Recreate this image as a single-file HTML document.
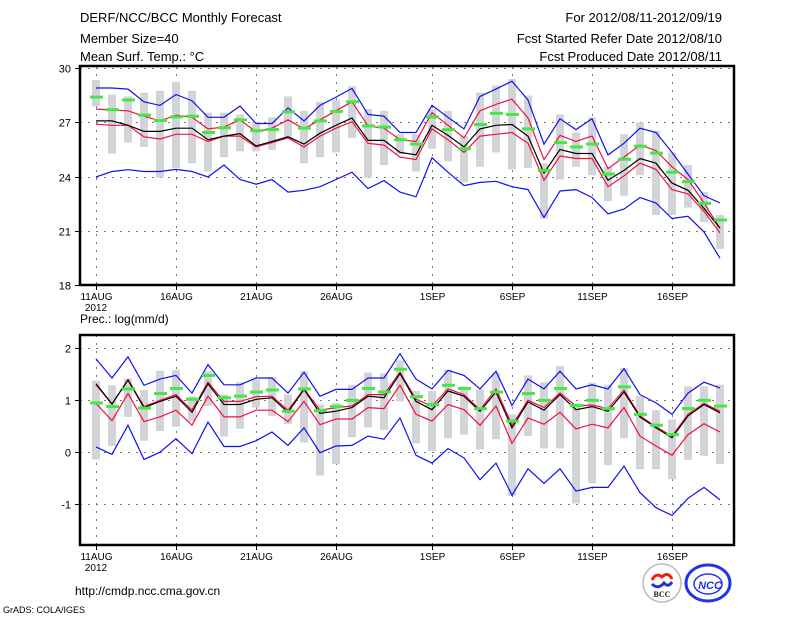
<!DOCTYPE html>
<html><head><meta charset="utf-8">
<style>
body{margin:0;background:#fff;}
svg{display:block;font-family:"Liberation Sans",sans-serif;}
</style></head>
<body>
<svg id="chart" width="800" height="618" viewBox="0 0 800 618">
<rect width="800" height="618" fill="#fff"/>
<g font-size="13" fill="#000">
<text x="80" y="22">DERF/NCC/BCC Monthly Forecast</text>
<text x="80" y="43">Member Size=40</text>
<text x="80" y="61">Mean Surf. Temp.: °C</text>
<text x="722" y="22" text-anchor="end">For 2012/08/11-2012/09/19</text>
<text x="722" y="43" text-anchor="end">Fcst Started Refer Date 2012/08/10</text>
<text x="722" y="61" text-anchor="end">Fcst Produced Date 2012/08/11</text>
<text x="80" y="323" font-size="12">Prec.: log(mm/d)</text>
<text x="75" y="595" font-size="12">http://cmdp.ncc.cma.gov.cn</text>
<text x="3" y="613" font-size="9">GrADS: COLA/IGES</text>
</g>
<g>
<circle cx="662" cy="583" r="19" fill="#fff" stroke="#bbb" stroke-width="1.5"/>
<path d="M652 580 q4 -8 10 -3 q6 -6 10 2" fill="none" stroke="#e21" stroke-width="3"/>
<path d="M652 584 q6 6 12 -1 q4 5 8 -1" fill="none" stroke="#23c" stroke-width="3"/>
<text x="662" y="597" font-size="8" font-weight="bold" text-anchor="middle" fill="#223" font-family="Liberation Serif,serif">BCC</text>
</g>
<g>
<ellipse cx="708" cy="583" rx="22" ry="18" fill="#fff" stroke="#2233ee" stroke-width="3"/>
<ellipse cx="708" cy="584" rx="14" ry="10" fill="none" stroke="#2233ee" stroke-width="1.5"/>
<text x="710" y="589" font-size="11" font-weight="bold" font-style="italic" text-anchor="middle" fill="#2233ee">NCC</text>
</g>
<g id="top"></g>
<g id="bot"></g>
</svg>
<script>
// ---- temperature panel data ----
const tBlueHi=[28.9,28.9,28.84,28.14,27.94,28.54,28.2,27.28,27.28,27.9,26.94,26.94,27.8,27.08,27.94,28.4,28.88,27.44,27.34,26.44,26.44,27.94,27.28,26.64,28.44,28.84,29.28,28.24,25.8,27.2,26.6,27.2,25.2,25.84,26.68,26.44,25.34,24.14,22.94,22.54];
const tRedHi=[27.74,27.68,27.64,27.34,27.08,27.4,27.28,26.64,26.74,27.14,26.48,26.68,27.14,26.64,27.14,27.64,28.14,26.8,26.68,26.04,25.94,27.54,26.84,26.14,27.64,28.0,28.28,27.24,24.94,26.28,25.94,26.24,24.44,25.08,25.74,25.44,24.54,23.84,22.54,21.14];
const tMean=[27.08,27.08,26.84,26.5,26.5,26.68,26.68,26.04,26.24,26.38,25.7,25.94,26.2,25.8,26.4,26.84,27.24,26,26,25.34,25.2,26.84,26.28,25.64,26.64,26.84,26.88,26.24,24.2,25.5,25.28,25.28,23.8,24.34,25.0,24.74,23.64,23.24,22.24,21.14];
const tRedLo=[26.9,26.84,26.84,26.2,26.08,26.34,26.34,25.94,26.24,26.24,25.64,25.88,26.14,25.64,26.24,26.68,27.04,25.84,25.74,25.08,24.94,26.64,26.04,25.34,26.24,26.34,26.44,25.84,23.8,25.14,25.0,25.0,23.44,24.04,24.74,24.4,23.28,23.04,22.08,20.88];
const tBlueLo=[23.98,24.28,24.38,24.28,24.28,24.4,24.28,23.98,24.64,23.84,23.58,23.84,23.14,23.24,23.44,23.84,24.24,23.34,23.78,23.14,22.88,25.04,24.24,23.5,23.68,23.74,23.44,23.28,21.74,23.2,23.28,22.84,21.94,22.2,22.84,22.54,21.68,21.8,20.94,19.48];
const tGreen=[28.4,27.7,28.24,27.4,27.1,27.3,27.34,26.44,26.7,27.14,26.54,26.6,27.58,26.68,27.08,27.6,28.14,26.8,26.74,26.04,25.8,27.3,26.6,25.54,26.88,27.5,27.44,26.64,24.34,25.88,25.64,25.8,24.14,24.96,25.68,25.3,24.24,23.72,22.52,21.6];
const tBarTop=[29.34,28.54,28.44,28.64,28.74,29.24,28.74,27.54,27.54,27.44,27.04,27.28,28.44,27.64,28.14,28.24,29.0,27.74,27.64,26.34,26.34,27.74,27.64,26.24,28.64,29.04,29.4,28.48,24.74,27.44,26.44,27.28,24.54,26.34,27.0,26.54,25.34,24.64,23.14,21.88];
const tBarBot=[27.88,25.28,25.88,25.64,23.94,24.48,24.74,24.28,25.08,25.4,25.4,25.48,26.14,24.74,25.08,25.34,26.14,23.94,24.64,25.24,24.28,25.54,24.84,23.68,24.54,25.34,24.4,24.48,21.68,23.84,24.54,24.08,22.64,22.94,24.08,21.88,21.88,22.28,21.48,20.0];
const tTicks=[18,21,24,27,30];
// ---- precipitation panel data ----
const pBlueHi=[1.79,1.42,1.83,1.28,1.4,1.47,1.13,1.68,1.29,1.29,1.42,1.42,1.13,1.53,1.07,1.2,1.2,1.42,1.42,1.89,1.4,1.21,1.57,1.47,1.21,1.55,0.89,1.4,1.21,1.55,1.21,1.29,1.21,1.6,1.1,0.94,0.72,1.13,1.34,1.23];
const pRedHi=[1.29,0.92,1.39,0.87,0.99,1.1,0.8,1.34,0.97,0.97,1.06,1.07,0.8,1.21,0.8,0.85,0.88,1.1,1.1,1.53,1.01,0.88,1.21,1.1,0.81,1.21,0.51,0.99,0.85,1.13,0.88,0.9,0.83,1.19,0.69,0.48,0.3,0.72,0.93,0.78];
const pMean=[1.31,0.92,1.38,0.85,0.97,1.07,0.76,1.31,0.91,0.91,1.01,1.04,0.76,1.2,0.74,0.78,0.85,1.07,1.04,1.51,0.97,0.81,1.17,1.07,0.78,1.15,0.46,0.96,0.8,1.1,0.81,0.87,0.78,1.15,0.67,0.46,0.27,0.69,0.91,0.75];
const pRedLo=[0.93,0.6,1.12,0.58,0.67,0.8,0.51,1.07,0.67,0.67,0.8,0.8,0.58,0.97,0.52,0.63,0.63,0.85,0.83,1.28,0.72,0.59,0.91,0.81,0.51,0.88,0.16,0.65,0.53,0.76,0.44,0.53,0.46,0.85,0.3,0.11,-0.07,0.33,0.54,0.38];
const pBlueLo=[0.09,-0.05,0.51,-0.15,-0.01,0.25,-0.04,0.57,0.1,0.1,0.21,0.38,0.12,0.46,-0.02,0.11,0.12,0.3,0.24,0.65,-0.07,-0.22,0.06,-0.12,-0.54,-0.22,-0.84,-0.33,-0.61,-0.33,-0.76,-0.69,-0.69,-0.28,-0.79,-1.08,-1.23,-0.9,-0.69,-0.93];
const pGreen=[0.94,0.87,1.21,0.84,1.12,1.22,1.01,1.47,1.04,1.07,1.15,1.19,0.78,1.21,0.79,0.87,0.99,1.22,1.15,1.59,1.06,0.91,1.28,1.22,0.83,1.15,0.59,1.12,0.99,1.22,0.89,0.99,0.83,1.25,0.72,0.51,0.33,0.83,0.99,0.88];
const pBarTop=[1.37,1.28,1.41,1.19,1.56,1.58,1.07,1.55,1.1,1.34,1.39,1.44,1.1,1.55,0.91,0.94,1.29,1.53,1.51,1.76,1.17,1.17,1.58,1.23,1.2,1.52,0.72,1.47,1.34,1.65,0.91,1.33,1.29,1.61,1.07,0.8,0.62,1.26,1.26,1.29];
const pBarBot=[-0.15,0.11,0.67,0.21,0.4,0.48,0.59,0.88,0.29,0.44,0.85,0.69,0.53,0.18,-0.46,-0.24,0.28,0.47,0.42,0.97,0.16,0.01,0.26,0.33,0.04,0.24,-0.85,0.3,0.06,0.06,-1.0,-0.61,-0.26,0.26,-0.34,-0.34,-0.53,-0.16,-0.08,-0.24];
const pTicks=[-1,0,1,2];
// ---- shared x axis ----
const dateLabels=["11AUG","16AUG","21AUG","26AUG","1SEP","6SEP","11SEP","16SEP"];
const dateIdx=[0,5,10,15,21,26,31,36];

const NS="http://www.w3.org/2000/svg";
function mk(parent,tag,attrs){const e=document.createElementNS(NS,tag);for(const k in attrs)e.setAttribute(k,attrs[k]);parent.appendChild(e);return e;}
const xOf=i=>96+16*i;

function panel(g,top,bottom,vmin,vmax,ticks,d,prefix){
  const y=v=>bottom-(v-vmin)/(vmax-vmin)*(bottom-top);
  // grid
  ticks.forEach(t=>{
    const yy=Math.round(y(t))+0.5;
    if(yy>top+2&&yy<bottom-2){
      const l=mk(g,'line',{x1:80,x2:734,y1:yy,y2:yy,stroke:'#777','stroke-dasharray':'2,6'});
      
      
    }
    const tk=mk(g,'line',{x1:75,x2:80,y1:yy,y2:yy,stroke:'#000'});
    
    
    const tx=mk(g,'text',{x:71,y:yy+4,'text-anchor':'end','font-size':11});
    tx.textContent=String(t);
    
    
  });
  dateIdx.forEach((di,k)=>{
    const xx=xOf(di)+0.5;
    const l=mk(g,'line',{x1:xx,x2:xx,y1:top,y2:bottom,stroke:'#777','stroke-dasharray':'2,6'});
    
    
    const tk=mk(g,'line',{x1:xx,x2:xx,y1:bottom,y2:bottom+5,stroke:'#000'});
    
    
    const tx=mk(g,'text',{x:xx,y:bottom+15,'text-anchor':'middle','font-size':10});
    tx.textContent=dateLabels[k];
    
    
  });
  const yr=mk(g,'text',{x:96,y:bottom+26,'text-anchor':'middle','font-size':10});
  yr.textContent='2012';
  
  
  // bars
  d.barTop.forEach((v,i)=>{
    const y1=y(v),y2=y(d.barBot[i]);
    const r=mk(g,'rect',{x:xOf(i)-4,y:y1,width:8,height:Math.max(1,y2-y1),fill:'#d3d4d8'});
    
    
  });
  const line=(arr,col,nm)=>{
    const p=mk(g,'polyline',{points:arr.map((v,i)=>xOf(i)+','+y(v).toFixed(1)).join(' '),fill:'none',stroke:col,'stroke-width':1.2});
    
    
  };
  line(d.blueHi,'#1010f0',prefix+'-max-line');
  line(d.blueLo,'#1010f0',prefix+'-min-line');
  line(d.redHi,'#f01040',prefix+'-upper-line');
  line(d.redLo,'#f01040',prefix+'-lower-line');
  line(d.mean,'#000',prefix+'-mean-line');
  d.green.forEach((v,i)=>{
    const r=mk(g,'rect',{x:xOf(i)-6,y:y(v)-1.5,width:13,height:3,fill:'#44e844'});
    
    
  });
  const f=mk(g,'rect',{x:80,y:top,width:654,height:bottom-top,fill:'none',stroke:'#000','stroke-width':2.5});
  
  
}
panel(document.getElementById('top'),66,285,18,30.12,tTicks,
  {blueHi:tBlueHi,redHi:tRedHi,mean:tMean,redLo:tRedLo,blueLo:tBlueLo,green:tGreen,barTop:tBarTop,barBot:tBarBot},'temp');
panel(document.getElementById('bot'),335,545,-1.8,2.25,pTicks,
  {blueHi:pBlueHi,redHi:pRedHi,mean:pMean,redLo:pRedLo,blueLo:pBlueLo,green:pGreen,barTop:pBarTop,barBot:pBarBot},'prec');
</script>
</body></html>
